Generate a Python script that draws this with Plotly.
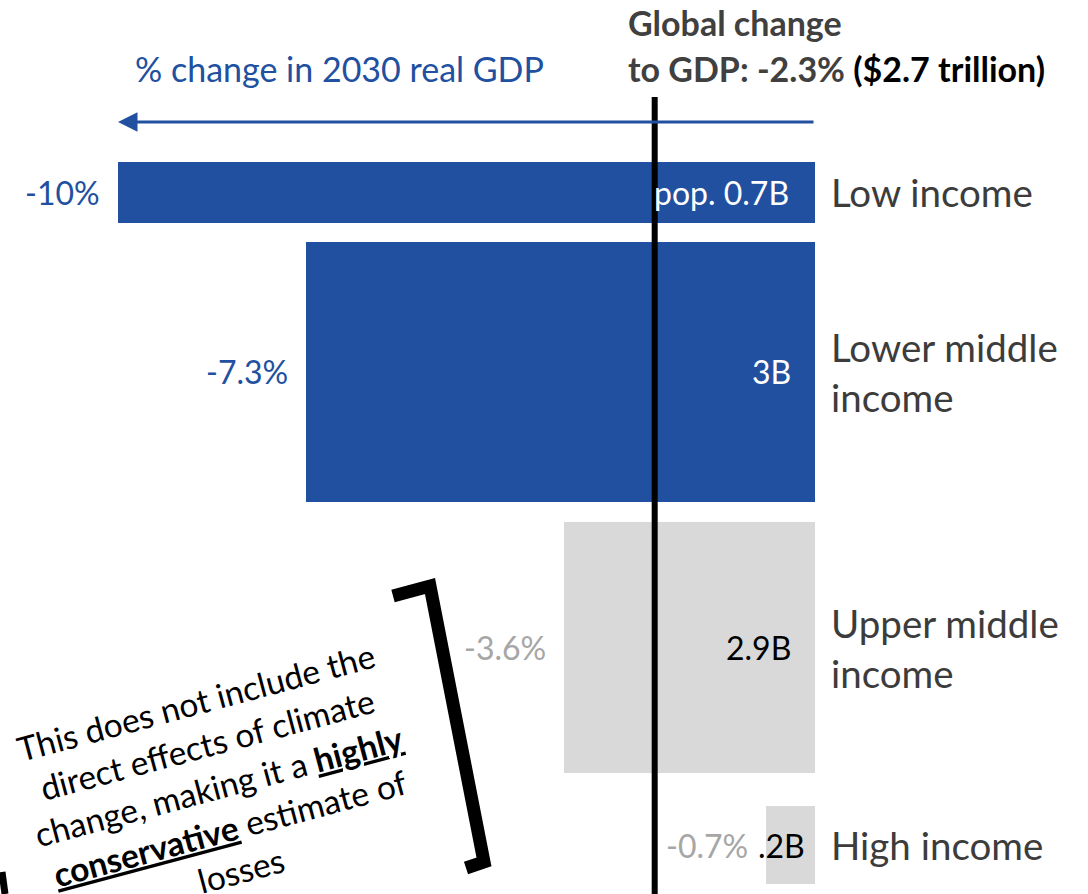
import plotly.graph_objects as go

# --- data -------------------------------------------------------------
groups = ["Low income", "Lower middle<br>income", "Upper middle<br>income", "High income"]
gdp_change = [-10.0, -7.3, -3.6, -0.7]          # % change in 2030 real GDP
population = [0.7, 3.0, 2.9, 0.9]               # billions (bar thickness)
pop_labels = ["pop. 0.7B", "3B", "2.9B", ".2B"]
global_change = -2.3                            # % change, world GDP

# --- layout helpers ---------------------------------------------------
W, H = 1088, 894
X_ZERO_PX, PX_PER_PCT = 815, 69.7
PX_PER_B = 86.7
FONT = "Lato, 'Open Sans', sans-serif"
BLUE = "#2150A0"
GREY_BAR = "#D9D9D9"
GREY_TXT = "#A6A6A6"
DARK = "#3C3C3C"

def px(x):
    return x / W

def py(y):
    return 1 - y / H

# stack bars top-down with gaps between groups
top = 162 / PX_PER_B
gaps = [19 / PX_PER_B, 20 / PX_PER_B, 33 / PX_PER_B]
centers = []
cur = top
for i, p in enumerate(population):
    centers.append(cur + p / 2)
    cur += p
    if i < len(gaps):
        cur += gaps[i]

bar_colors = [BLUE, BLUE, GREY_BAR, GREY_BAR]
inside_colors = ["white", "white", "black", "black"]
value_colors = [BLUE, BLUE, GREY_TXT, GREY_TXT]
inside_shift = [-24, -22, -22, -8]

fig = go.Figure()
fig.add_trace(go.Bar(
    x=gdp_change, y=centers, width=population, orientation="h",
    marker=dict(color=bar_colors, line=dict(width=0)),
    hoverinfo="skip", showlegend=False,
))

annotations = []
for v, c, lab, g, vc, ic, sh in zip(gdp_change, centers, pop_labels, groups,
                                     value_colors, inside_colors, inside_shift):
    # value to the left of the bar
    annotations.append(dict(x=v, y=c, xref="x", yref="y", text=f"{v:g}%",
                            showarrow=False, xanchor="right", yanchor="middle",
                            xshift=-16, font=dict(family=FONT, size=32, color=vc)))
    # population inside the bar end
    annotations.append(dict(x=0, y=c, xref="x", yref="y", text=lab,
                            showarrow=False, xanchor="right", yanchor="middle",
                            xshift=sh, font=dict(family=FONT, size=32, color=ic)))
    # group name to the right
    annotations.append(dict(x=0, y=c, xref="x", yref="y", text=g, align="left",
                            showarrow=False, xanchor="left", yanchor="middle",
                            xshift=14, font=dict(family=FONT, size=38.5, color=DARK)))

# direction arrow for the x axis
annotations.append(dict(x=min(gdp_change), y=122 / PX_PER_B, ax=0, ay=122 / PX_PER_B,
                        xref="x", yref="y", axref="x", ayref="y", text="",
                        showarrow=True, arrowhead=2, arrowsize=1.3, arrowwidth=3,
                        arrowcolor=BLUE))
annotations.append(dict(x=px(133), y=py(68), xref="paper", yref="paper",
                        text="% change in 2030 real GDP", showarrow=False,
                        xanchor="left", yanchor="middle",
                        font=dict(family=FONT, size=34, color=BLUE)))

# global change heading
annotations.append(dict(x=px(626), y=py(22), xref="paper", yref="paper",
                        text="<b>Global change</b>", showarrow=False,
                        xanchor="left", yanchor="middle",
                        font=dict(family=FONT, size=34, color="#404040")))
annotations.append(dict(x=px(626), y=py(68), xref="paper", yref="paper",
                        text=f"<b>to GDP: {global_change:g}% "
                             "<span style='color:black'>($2.7 trillion)</span></b>",
                        showarrow=False, xanchor="left", yanchor="middle",
                        font=dict(family=FONT, size=34, color="#404040")))

# rotated caveat note
annotations.append(dict(x=px(218), y=py(786), xref="paper", yref="paper",
                        text="This does not include the<br>direct effects of climate<br>"
                             "change, making it a <b><u>highly</u></b><br>"
                             "<b><u>conservative</u></b> estimate of<br>losses",
                        showarrow=False, align="center", textangle=-15,
                        xanchor="center", yanchor="middle",
                        font=dict(family=FONT, size=33.5, color="black")))

shapes = [
    # global average line
    dict(type="line", xref="x", yref="paper", x0=global_change, x1=global_change,
         y0=py(97), y1=0, line=dict(color="black", width=6)),
    # right bracket
    dict(type="path", xref="paper", yref="paper",
         path=f"M {px(393)},{py(596)} L {px(430)},{py(586)} "
              f"L {px(484)},{py(862)} L {px(466)},{py(868)}",
         line=dict(color="black", width=13)),
    # fragment of the left bracket
    dict(type="line", xref="paper", yref="paper", x0=px(2), y0=py(872),
         x1=px(5), y1=0, line=dict(color="black", width=7)),
]

fig.update_layout(
    width=W, height=H,
    margin=dict(l=0, r=0, t=0, b=0),
    paper_bgcolor="white", plot_bgcolor="white",
    xaxis=dict(range=[-X_ZERO_PX / PX_PER_PCT, (W - X_ZERO_PX) / PX_PER_PCT],
               visible=False, fixedrange=True),
    yaxis=dict(range=[H / PX_PER_B, 0], visible=False, fixedrange=True),
    annotations=annotations,
    shapes=shapes,
    bargap=0,
)

fig.write_html("out.html")
